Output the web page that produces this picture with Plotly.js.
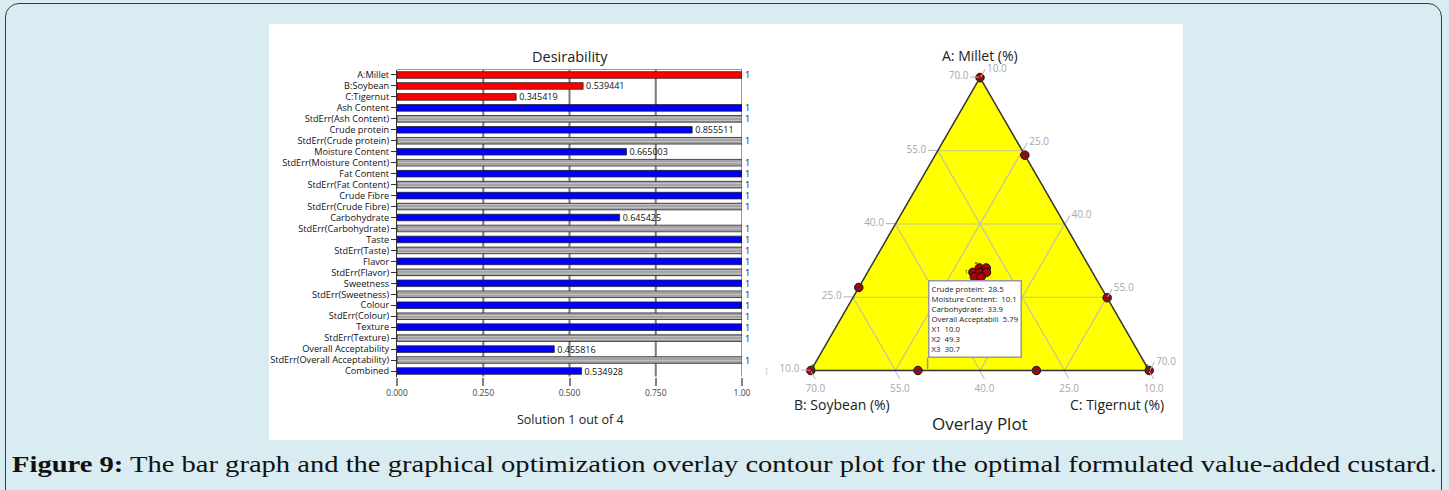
<!DOCTYPE html>
<html>
<head>
<meta charset="utf-8">
<script src="https://cdn.plot.ly/plotly-3.0.1.min.js"></script>
<style>
  html, body { margin: 0; padding: 0; background: #d8ecf1; }
  #wrap { position: relative; width: 1449px; height: 490px; background: #d8ecf1; overflow: hidden; }
  #frame { position: absolute; left: 5px; top: 3px; width: 1437px; height: 500px; border: 1.5px solid #3a3a3a; border-radius: 14px; box-sizing: border-box; }
  #chart { position: absolute; left: 0; top: 0; width: 1449px; height: 490px; }
  #caption { position: absolute; left: 12px; top: 451px; white-space: nowrap; font-family: "Liberation Serif", "DejaVu Serif", serif; font-size: 24px; color: #111; transform-origin: 0 0; }
</style>
</head>
<body>
<div id="wrap">
  <div id="frame"></div>
  <div id="chart"></div>
  <div id="caption"><b>Figure 9:</b> The bar graph and the graphical optimization overlay contour plot for the optimal formulated value-added custard.</div>
</div>
<script>
// ---------- Bar chart data (Desirability) ----------
const categories = [
  "A:Millet", "B:Soybean", "C:Tigernut",
  "Ash Content", "StdErr(Ash Content)",
  "Crude protein", "StdErr(Crude protein)",
  "Moisture Content", "StdErr(Moisture Content)",
  "Fat Content", "StdErr(Fat Content)",
  "Crude Fibre", "StdErr(Crude Fibre)",
  "Carbohydrate", "StdErr(Carbohydrate)",
  "Taste", "StdErr(Taste)",
  "Flavor", "StdErr(Flavor)",
  "Sweetness", "StdErr(Sweetness)",
  "Colour", "StdErr(Colour)",
  "Texture", "StdErr(Texture)",
  "Overall Acceptability", "StdErr(Overall Acceptability)",
  "Combined"
];
const desirability = [
  1, 0.539441, 0.345419,
  1, 1,
  0.855511, 1,
  0.665003, 1,
  1, 1,
  1, 1,
  0.645425, 1,
  1, 1,
  1, 1,
  1, 1,
  1, 1,
  1, 1,
  0.455816, 1,
  0.534928
];
const barGroups = [
  "factor", "factor", "factor",
  "response", "stderr",
  "response", "stderr",
  "response", "stderr",
  "response", "stderr",
  "response", "stderr",
  "response", "stderr",
  "response", "stderr",
  "response", "stderr",
  "response", "stderr",
  "response", "stderr",
  "response", "stderr",
  "response", "stderr",
  "combined"
];
const xTickVals = [0, 0.25, 0.5, 0.75, 1];
const xTickText = ["0.000", "0.250", "0.500", "0.750", "1.00"];
const strayLabel = "1";   // faint label printed beside the Combined row in the source image

// ---------- Ternary data (Overlay plot) ----------
const ternTicks = [10, 25, 40, 55, 70];
const designA = [70, 54.1, 27.0, 24.9, 10, 10, 10, 10];
const designB = [10, 10, 53.0, 10, 70, 10, 51.0, 30.0];
const designC = [10, 25.9, 10, 55.1, 10, 70, 29.0, 50.0];
const replicateLabels = ["6", "", "", "", "6", "6", "", ""];
const clusterA = [31.0, 31.0, 30.1, 30.1, 30.1, 29.2, 29.2];
const clusterB = [29.6, 28.4, 31.2, 30.0, 28.8, 31.4, 30.2];
const clusterC = [29.4, 30.6, 28.7, 29.9, 31.1, 29.4, 30.6];
const clusterLabels = ["5", "", "10", "", "", "9", ""];
const optimum = { X1: 10.0, X2: 49.3, X3: 30.7 };
const tipLabels = ["Crude protein:", "Moisture Content:", "Carbohydrate:", "Overall Acceptabili", "X1", "X2", "X3"];
const tipValues = ["28.5", "10.1", "33.9", "5.79", "10.0", "49.3", "30.7"];

// ---------- styling helpers ----------
const groupColor = { factor: "#ff0000", response: "#0000ff", combined: "#0000ff", stderr: "#c0c0c0" };
const W = 1449, H = 490;
const px = v => v / W;
const py = v => 1 - v / H;

const FONT = "Open Sans, Noto Sans, sans-serif";

const barTrace = {
  type: "bar",
  orientation: "h",
  x: desirability,
  y: categories,
  xaxis: "x", yaxis: "y",
  marker: {
    color: barGroups.map(g => groupColor[g]),
    line: { color: "#222", width: 0.8 },
    pattern: {
      shape: barGroups.map(g => g === "stderr" ? "-" : ""),
      fgcolor: "#6e6e6e",
      size: 3,
      solidity: 0.3,
      fillmode: "overlay"
    }
  },
  text: desirability.map(v => v === 1 ? "1" : v.toFixed(6)),
  textposition: "outside",
  constraintext: "none",
  cliponaxis: false,
  textfont: { family: FONT, size: 9, color: "#111" },
  hoverinfo: "skip",
  showlegend: false
};

// ternary geometry: domain chosen so the triangle sits where the reference has it
const ternTop = 77.5, ternBottom = 370.5, ternCx = 980;
const ternH = ternBottom - ternTop;
const ternW = ternH * 2 / Math.sqrt(3);

const designTrace = {
  type: "scatterternary",
  subplot: "ternary",
  mode: "markers",
  a: designA.concat(clusterA),
  b: designB.concat(clusterB),
  c: designC.concat(clusterC),
  marker: { color: "#b30000", size: 8.5, line: { color: "#111", width: 1 } },
  hoverinfo: "skip",
  showlegend: false,
  cliponaxis: false
};
const vertexLabelTrace = {
  type: "scatterternary",
  subplot: "ternary",
  mode: "text",
  a: designA, b: designB, c: designC,
  text: replicateLabels,
  textposition: ["bottom center", "top right", "top right", "top right", "top right", "top left", "top right", "top right"],
  textfont: { family: FONT, size: 7.5, color: "#555500" },
  hoverinfo: "skip",
  showlegend: false,
  cliponaxis: false
};
const clusterLabelTrace = {
  type: "scatterternary",
  subplot: "ternary",
  mode: "text",
  a: clusterA, b: clusterB, c: clusterC,
  text: clusterLabels.map(t => t ? t + "&nbsp;" : ""),
  textposition: ["top left", "middle left", "middle left", "middle left", "middle left", "bottom left", "middle left"],
  textfont: { family: FONT, size: 6, color: "#333300" },
  hoverinfo: "skip",
  showlegend: false,
  cliponaxis: false
};

const ternAxis = {
  min: 10,
  tickmode: "array",
  tickvals: ternTicks,
  tickformat: ".1f",
  ticks: "outside",
  ticklen: 9,
  tickcolor: "#b5b5b5",
  tickwidth: 1,
  tickfont: { family: FONT, size: 10, color: "#a8a8a8" },
  showline: true,
  linecolor: "#333",
  linewidth: 1.5,
  showgrid: true,
  gridcolor: "#c2c2a0",
  gridwidth: 1.2,
  title: { text: "" }
};

// optimum flag position on bottom edge (A = 10): fraction along from B-vertex
const flagX = ternCx - ternW / 2 + ternW * (70 - optimum.X2) / 60;
const tipText = tipLabels.map((l, i) => l + "&nbsp;&nbsp;" + tipValues[i]).join("<br>");

const ann = (text, x, y, size, color) => ({
  text, xref: "paper", yref: "paper", x: px(x), y: py(y), xanchor: "center", yanchor: "middle",
  showarrow: false, font: { family: FONT, size, color: color || "#222" }
});

// vertical grid lines of the desirability chart, at the interior ticks and the right frame
const gridShapes = xTickVals.slice(1).map(v => ({
  type: "line", xref: "x", yref: "y domain", x0: v, x1: v, y0: 0, y1: 1,
  line: { color: v === 1 ? "#9a9a9a" : "#7a7a7a", width: 2 }, layer: "below"
}));

const layout = {
  width: W, height: H,
  margin: { l: 0, r: 0, t: 0, b: 0 },
  paper_bgcolor: "rgba(0,0,0,0)",
  plot_bgcolor: "#ffffff",
  showlegend: false,
  bargap: 0.4,
  font: { family: FONT },
  xaxis: {
    domain: [px(397), px(742)],
    range: [0, 1],
    tickmode: "array",
    tickvals: xTickVals,
    ticktext: xTickText,
    showgrid: false,
    zeroline: false,
    showline: false,
    ticks: "outside",
    ticklen: 8,
    tickcolor: "#808080",
    tickwidth: 2,
    tickfont: { family: FONT, size: 8.5, color: "#444" },
    fixedrange: true
  },
  yaxis: {
    domain: [py(376.5), py(69.5)],
    type: "category",
    autorange: "reversed",
    tickmode: "array",
    tickvals: categories,
    ticktext: categories,
    showline: true,
    linecolor: "#333",
    linewidth: 1,
    ticks: "outside",
    ticklen: 5,
    tickcolor: "#333",
    tickfont: { family: FONT, size: 9.2, color: "#111" },
    showgrid: false,
    zeroline: false,
    fixedrange: true
  },
  ternary: {
    domain: { x: [px(ternCx) - 0.16, px(ternCx) + 0.16], y: [py(ternBottom), py(ternTop)] },
    sum: 90,
    bgcolor: "#ffff00",
    aaxis: ternAxis,
    baxis: ternAxis,
    caxis: ternAxis
  },
  shapes: [
    { type: "rect", xref: "paper", yref: "paper", x0: px(269), x1: px(1183), y0: py(440), y1: py(24),
      fillcolor: "#ffffff", line: { width: 0 }, layer: "below" },
    { type: "line", xref: "x domain", yref: "y domain", x0: 0, x1: 1, y0: 1, y1: 1,
      line: { color: "#999", width: 1 } }
  ].concat(gridShapes),
  annotations: [
    ann("Desirability", 570, 57, 14.5),
    ann("Solution 1 out of 4", 570, 419, 12.5),
    ann(strayLabel, 766, 371, 9, "#c4c4c4"),
    ann("A: Millet (%)", 980, 55, 14),
    ann("B: Soybean (%)", 842, 404, 14),
    ann("C: Tigernut (%)", 1117, 404, 14),
    ann("Overlay Plot", 980, 423, 17),
    { text: tipText, xref: "paper", yref: "paper", x: px(flagX), y: py(ternBottom),
      showarrow: true, arrowhead: 0, arrowwidth: 1.5, arrowcolor: "#999", ax: 0, ay: -13, standoff: 0, startstandoff: 0,
      xanchor: "left", yanchor: "bottom", align: "left",
      bgcolor: "#ffffff", bordercolor: "#999", borderwidth: 1.5, borderpad: 2,
      font: { family: FONT, size: 7.8, color: "#222" } }
  ]
};

Plotly.newPlot("chart", [barTrace, designTrace, vertexLabelTrace, clusterLabelTrace], layout,
  { staticPlot: true, displayModeBar: false });

// stretch caption to the reference width
const cap = document.getElementById("caption");
const targetW = 1425;
const s = targetW / cap.getBoundingClientRect().width;
cap.style.transform = "scaleX(" + s + ")";
</script>
</body>
</html>
